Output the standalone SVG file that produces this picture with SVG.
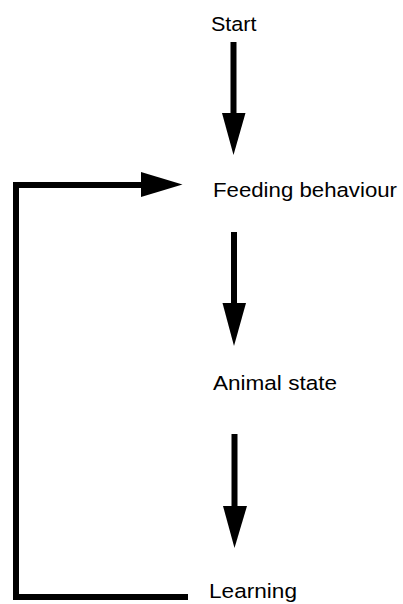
<svg xmlns="http://www.w3.org/2000/svg" width="403" height="604" viewBox="0 0 403 604">
<style>
.lbl{font-family:"Liberation Sans",Arial,sans-serif;font-size:20.5px;fill:#000}
.ln{stroke:#000;stroke-width:6;fill:none}
.hd{fill:#000}
</style>
<rect width="403" height="604" fill="#fff"/>
<g id="connectors">
<line class="ln" x1="233.5" y1="42" x2="233.5" y2="116"/>
<polygon class="hd" points="222,113 245.5,113 233.5,155"/>
<line class="ln" x1="234" y1="232" x2="234" y2="306"/>
<polygon class="hd" points="222.5,303 246,303 234,346"/>
<line class="ln" x1="234.5" y1="434" x2="234.5" y2="509"/>
<polygon class="hd" points="223,506 247,506 234.5,548"/>
<polyline class="ln" points="188,597 16,597 16,185 144,185"/>
<polygon class="hd" points="141,172 141,197 182.5,184.5"/>
</g>
<g id="start"><text class="lbl" x="211" y="31" textLength="45.5" lengthAdjust="spacingAndGlyphs">Start</text></g>
<g id="feeding"><text class="lbl" x="213" y="197" textLength="184" lengthAdjust="spacingAndGlyphs">Feeding behaviour</text></g>
<g id="animal"><text class="lbl" x="213" y="390" textLength="124" lengthAdjust="spacingAndGlyphs">Animal state</text></g>
<g id="learning"><text class="lbl" x="209" y="598" textLength="88" lengthAdjust="spacingAndGlyphs">Learning</text></g>
</svg>
